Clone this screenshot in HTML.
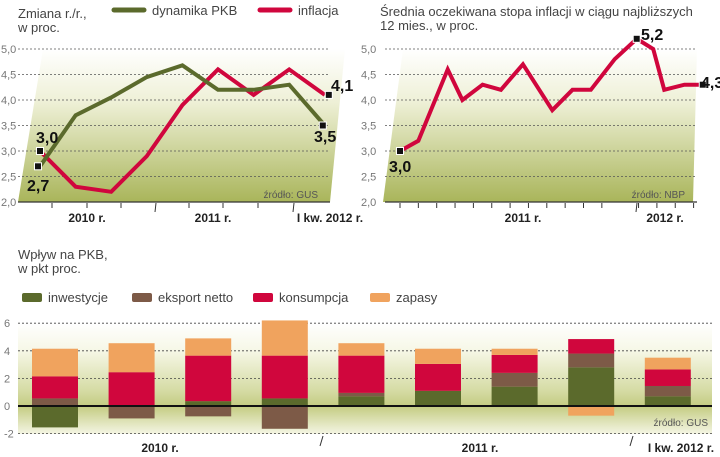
<!DOCTYPE html>
<html><head><meta charset="utf-8">
<style>
html,body{margin:0;padding:0;background:#fff;}
svg{display:block;font-family:"Liberation Sans Narrow","Liberation Sans",sans-serif;}
</style></head>
<body>
<svg id="c" width="720" height="457" viewBox="0 0 720 457">
<defs>
<linearGradient id="g1" x1="0" y1="0" x2="0" y2="1">
<stop offset="0" stop-color="#ffffff"/><stop offset="0.35" stop-color="#eef0d6"/><stop offset="1" stop-color="#a9b55a"/>
</linearGradient>
<linearGradient id="g2" x1="0" y1="0" x2="0" y2="1">
<stop offset="0" stop-color="#ffffff"/><stop offset="0.25" stop-color="#f6f7e6"/><stop offset="0.6" stop-color="#d6dca6"/><stop offset="0.75" stop-color="#c4cc82"/><stop offset="1" stop-color="#f4f5e4"/>
</linearGradient>
</defs>
<g id="left">
<polygon points="18,202 43,49 345,49 330,202" fill="url(#g1)"/>
<text x="18" y="18" font-size="13" fill="#444">Zmiana r./r.,</text>
<text x="18" y="32" font-size="13" fill="#444">w proc.</text>
<line x1="114" y1="10" x2="144" y2="10" stroke="#5b6a2c" stroke-width="5" stroke-linecap="round"/>
<text x="152" y="15" font-size="13" fill="#444">dynamika PKB</text>
<line x1="260" y1="10" x2="290" y2="10" stroke="#d0063d" stroke-width="5" stroke-linecap="round"/>
<text x="298" y="15" font-size="13" fill="#444">inflacja</text>
<g id="lgrid"></g>
<g id="lseries"></g>
<text x="318" y="198" font-size="10" fill="#555" text-anchor="end">źródło: GUS</text>
<text x="87" y="222" font-size="12" font-weight="bold" fill="#222" text-anchor="middle">2010 r.</text>
<text x="213" y="222" font-size="12" font-weight="bold" fill="#222" text-anchor="middle">2011 r.</text>
<text x="330" y="222" font-size="12" font-weight="bold" fill="#222" text-anchor="middle">I kw. 2012 r.</text>
<text x="36" y="143" font-size="16" font-weight="bold" fill="#111">3,0</text>
<text x="27" y="191" font-size="16" font-weight="bold" fill="#111">2,7</text>
<text x="331" y="91" font-size="16" font-weight="bold" fill="#111">4,1</text>
<text x="314" y="142" font-size="16" font-weight="bold" fill="#111">3,5</text>
</g>
<g id="right">
<polygon points="383,202 403,49 697,49 693,202" fill="url(#g1)"/>
<text x="380" y="16" font-size="13" fill="#444">Średnia oczekiwana stopa inflacji w ciągu najbliższych</text>
<text x="380" y="30" font-size="13" fill="#444">12 mies., w proc.</text>
<g id="rgrid"></g>
<g id="rseries"></g>
<text x="685" y="198" font-size="10" fill="#555" text-anchor="end">źródło: NBP</text>
<text x="523" y="222" font-size="12" font-weight="bold" fill="#222" text-anchor="middle">2011 r.</text>
<text x="665" y="222" font-size="12" font-weight="bold" fill="#222" text-anchor="middle">2012 r.</text>
<text x="389" y="172" font-size="16" font-weight="bold" fill="#111">3,0</text>
<text x="641" y="40" font-size="16" font-weight="bold" fill="#111">5,2</text>
<text x="701" y="88" font-size="16" font-weight="bold" fill="#111">4,3</text>
</g>
<g id="bottom">
<text x="18" y="259" font-size="13" fill="#444">Wpływ na PKB,</text>
<text x="18" y="273" font-size="13" fill="#444">w pkt proc.</text>
<rect x="18" y="323" width="694" height="111" fill="url(#g2)"/>
<g id="blegend"></g>
<g id="bgrid"></g>
<g id="bbars"></g>
<text x="708" y="426" font-size="10" fill="#555" text-anchor="end">źródło: GUS</text>
<text x="160" y="452" font-size="12" font-weight="bold" fill="#222" text-anchor="middle">2010 r.</text>
<text x="480" y="452" font-size="12" font-weight="bold" fill="#222" text-anchor="middle">2011 r.</text>
<text x="681" y="452" font-size="12" font-weight="bold" fill="#222" text-anchor="middle">I kw. 2012 r.</text>
<line x1="320" y1="446" x2="323" y2="436" stroke="#333"/>
<line x1="630" y1="446" x2="633" y2="436" stroke="#333"/>
</g>
</svg>
<script>
var NS="http://www.w3.org/2000/svg";
// ---- data: left chart (quarterly, Q1 2010 .. Q1 2012)
var leftQuarters=["I10","II10","III10","IV10","I11","II11","III11","IV11","I12"];
var gdpGrowth=[2.7,3.7,4.05,4.45,4.68,4.2,4.2,4.3,3.5];
var inflation=[3.0,2.3,2.2,2.9,3.9,4.6,4.1,4.6,4.1];
var yTicksTop=[2.0,2.5,3.0,3.5,4.0,4.5,5.0];
var yTickLabelsTop=["2,0","2,5","3,0","3,5","4,0","4,5","5,0"];
// ---- data: right chart (monthly survey, month index)
var expMonths=[0,1,2.6,3.4,4.5,5.5,6.7,8.3,9.4,10.4,11.7,12.9,13.8,14.4,15.5,16.5];
var expInflation=[3.0,3.2,4.6,4.0,4.3,4.2,4.7,3.8,4.2,4.2,4.8,5.2,5.0,4.2,4.3,4.3];
// ---- data: bottom chart
var barQuarters=["I10","II10","III10","IV10","I11","II11","III11","IV11","I12"];
var investment=[-1.55,0,0.35,0.55,0.7,1.1,1.4,2.8,0.7];
var netExport=[0.55,-0.9,-0.75,-1.65,0.25,0,1.0,1.0,0.75];
var consumption=[1.6,2.45,3.3,3.1,2.7,1.95,1.3,1.05,1.2];
var inventories=[2.0,2.1,1.25,2.55,0.9,1.1,0.45,-0.7,0.85];
var yTicksBottom=[-2,0,2,4,6];
var yTickLabelsBottom=["-2","0","2","4","6"];
var seriesNames=["inwestycje","eksport netto","konsumpcja","zapasy"];
var seriesColors=["#5b6a2c","#7d5a47","#d0063d","#f0a35e"];

function mk(tag,attrs,parent){var e=document.createElementNS(NS,tag);for(var k in attrs)e.setAttribute(k,attrs[k]);parent.appendChild(e);return e;}
function yTop(v){return 202-(v-2)*51;}
function xLeft(i){return 40+i*35.6;}
function xRight(m){return 400+m*18.35;}

[["lgrid",0,18,330],["rgrid",360,385,697]].forEach(function(g){
  var p=document.getElementById(g[0]);
  yTicksTop.forEach(function(v,i){
    var t=mk("text",{x:g[1]+1,y:yTop(v)+4,"font-size":11,fill:"#777"},p);
    t.textContent=yTickLabelsTop[i];
    
    
    var l=mk("line",{x1:g[2],x2:g[3],y1:yTop(v),y2:yTop(v),stroke:i==0?"#333":"#555","stroke-dasharray":i==0?"":"2,2","stroke-width":i==0?1.2:0.8},p);
    
    
  });
});
var lg=document.getElementById("lgrid");
[52,87,121,189,223,258].forEach(function(x){var l=mk("line",{x1:x,x2:x,y1:203,y2:208,stroke:"#333"},lg);});
[155,293].forEach(function(x){var l=mk("line",{x1:x,x2:x+1,y1:212,y2:203,stroke:"#333"},lg);});
var rg=document.getElementById("rgrid");
for(var m=0;m<17;m++){if(m==12)continue;var l=mk("line",{x1:xRight(m),x2:xRight(m),y1:203,y2:208,stroke:"#333"},rg);}
var dv=mk("line",{x1:636,x2:637,y1:212,y2:203,stroke:"#333"},rg);

function poly(parent,xs,ys,color,name){
  var pts=xs.map(function(x,i){return x+","+ys[i];}).join(" ");
  var p=mk("polyline",{points:pts,fill:"none",stroke:color,"stroke-width":4,"stroke-linejoin":"miter"},parent);
  
  
}
function marker(parent,x,y,name){
  var r=mk("rect",{x:x-3.5,y:y-3.5,width:7,height:7,fill:"#111",stroke:"#fff","stroke-width":1},parent);
  
  
}
var ls=document.getElementById("lseries");
poly(ls,inflation.map(function(v,i){return xLeft(i);}),inflation.map(yTop),"#d0063d","inflation-line");
poly(ls,gdpGrowth.map(function(v,i){return xLeft(i);}),gdpGrowth.map(yTop),"#5b6a2c","gdp-line");
var n=gdpGrowth.length-1;
marker(ls,xLeft(0)-2,yTop(gdpGrowth[0]),"gdp-start-marker");
marker(ls,xLeft(0),yTop(inflation[0]),"inflation-start-marker");
marker(ls,xLeft(n)-2,yTop(gdpGrowth[n]),"gdp-end-marker");
marker(ls,xLeft(n)+4,yTop(inflation[n]),"inflation-end-marker");

var rs=document.getElementById("rseries");
poly(rs,expMonths.map(xRight),expInflation.map(yTop),"#d0063d","inflation-expectations-line");
marker(rs,xRight(expMonths[0]),yTop(expInflation[0]),"expect-start-marker");
var mx=expInflation.indexOf(Math.max.apply(null,expInflation));
marker(rs,xRight(expMonths[mx]),yTop(expInflation[mx]),"expect-max-marker");
var e=expInflation.length-1;
marker(rs,xRight(expMonths[e]),yTop(expInflation[e]),"expect-end-marker");

function yB(v){return 406-v*13.8;}
function xB(i){return 32+i*76.6;}
var bg=document.getElementById("bgrid");
yTicksBottom.forEach(function(v,i){
  var t=mk("text",{x:4,y:yB(v)+4,"font-size":11,fill:"#777"},bg);
  t.textContent=yTickLabelsBottom[i];
  
  
  if(v!==0){var l=mk("line",{x1:18,x2:712,y1:yB(v),y2:yB(v),stroke:"#444","stroke-dasharray":"2,2","stroke-width":0.8},bg);
  
  }
});
var bb=document.getElementById("bbars");
var all=[investment,netExport,consumption,inventories];
barQuarters.forEach(function(q,i){
  var pos=0,neg=0;
  all.forEach(function(s,k){
    var v=s[i];if(v===0)return;
    var y0,y1;
    if(v>0){y0=pos;y1=pos+v;pos=y1;}else{y0=neg+v;y1=neg;neg=y0;}
    var r=mk("rect",{x:xB(i),y:yB(y1),width:46,height:yB(y0)-yB(y1),fill:seriesColors[k]},bb);
    
    
  });
});
var z=mk("line",{x1:18,x2:712,y1:yB(0),y2:yB(0),stroke:"#111","stroke-width":2},bb);


var bl=document.getElementById("blegend");
var lx=[22,132,253,370];
seriesNames.forEach(function(nm,k){
  var r=mk("rect",{x:lx[k],y:293,width:20,height:9,rx:2,fill:seriesColors[k]},bl);
  
  
  var t=mk("text",{x:lx[k]+26,y:302,"font-size":13,fill:"#444"},bl);
  t.textContent=nm;
  
  
});
</script>
</body></html>
